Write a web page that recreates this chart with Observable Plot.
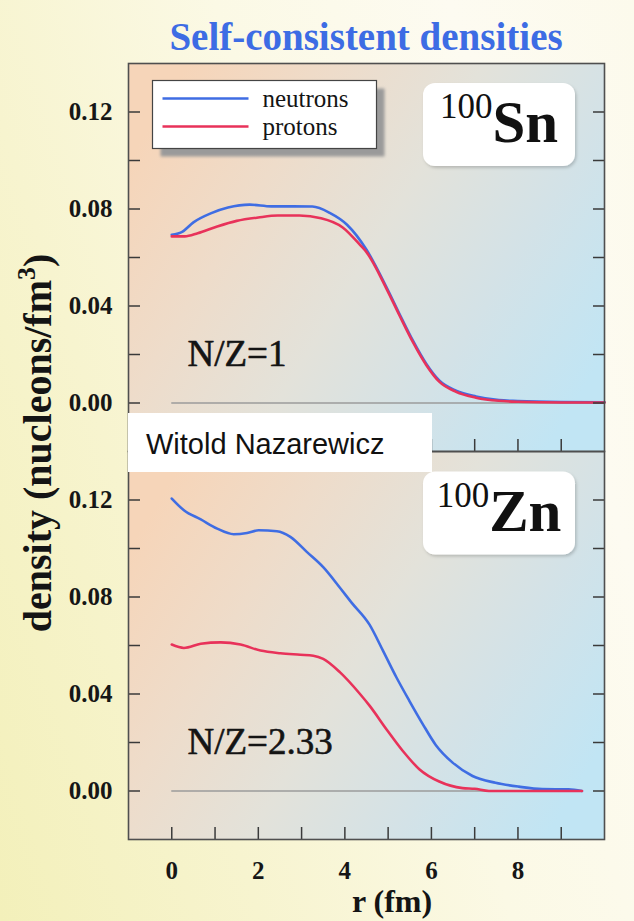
<!DOCTYPE html>
<html>
<head>
<meta charset="utf-8">
<script src="https://cdn.jsdelivr.net/npm/d3@7"></script>
<script src="https://cdn.jsdelivr.net/npm/@observablehq/plot@0.6"></script>
<style>
  html, body { margin: 0; padding: 0; }
  body {
    width: 634px; height: 921px; overflow: hidden;
    background: linear-gradient(72deg, #f3f0ba 0%, #f7f4cf 28%, #fbf9e5 55%, #fdfbf1 80%, #fcfaec 100%);
  }
  #wrap { position: relative; width: 634px; height: 921px; }
  #title {
    position: absolute; left: 128px; top: 14px; width: 476px;
    text-align: center; line-height: 1;
    font: bold 39px "Liberation Serif", "DejaVu Serif", serif;
    color: #3d6ce4;
  }
  #chart { position: absolute; left: 0; top: 0; }
</style>
</head>
<body>
<div id="wrap">
  <div id="chart"></div>
  <div id="title">Self-consistent densities</div>
</div>
<script>
const SERIF = "'Liberation Serif', 'DejaVu Serif', serif";
const SANS = "'Liberation Sans', Arial, sans-serif";

// Nuclei (one panel each) and nucleon species
const nuclei = ["Sn", "Zn"];
const massNumbers = ["100", "100"];
const ratioText = ["N/Z=1", "N/Z=2.33"];
const species = ["neutrons", "protons"];
const speciesColors = ["#3f6de3", "#e8325a"];

// 100Sn density profiles: r (fm) and rho (nucleons/fm^3)
const snNeutronR   = [0, 0.25, 0.5, 0.9, 1.3, 1.8, 2.3, 2.8, 3.25, 3.65, 4.05, 4.5, 4.96, 5.26, 5.57, 5.88, 6.18, 6.57, 7.03, 7.56, 8.0, 9.0, 10.0];
const snNeutronRho = [0.0694, 0.0707, 0.0745, 0.0782, 0.0806, 0.0818, 0.0811, 0.0811, 0.0810, 0.0784, 0.0735, 0.0632, 0.0478, 0.0368, 0.0258, 0.0162, 0.0093, 0.0051, 0.0027, 0.0012, 0.0008, 0.0004, 0.0003];
const snProtonR    = [0, 0.3, 0.6, 1.05, 1.5, 2.0, 2.45, 2.95, 3.45, 3.95, 4.35, 4.5, 4.96, 5.26, 5.57, 5.88, 6.18, 6.57, 7.03, 7.56, 8.0, 9.0, 10.0];
const snProtonRho  = [0.0687, 0.0687, 0.0700, 0.0728, 0.0751, 0.0765, 0.0773, 0.0773, 0.0762, 0.0724, 0.0652, 0.0622, 0.0472, 0.0362, 0.0252, 0.0157, 0.0088, 0.0046, 0.0022, 0.0009, 0.0005, 0.0002, 0.0002];

// 100Zn density profiles
const znNeutronR   = [0, 0.28, 0.67, 1.05, 1.43, 1.74, 2.01, 2.43, 2.74, 3.12, 3.5, 3.9, 4.15, 4.57, 4.88, 5.19, 5.49, 5.8, 6.1, 6.49, 6.95, 7.48, 8.02, 8.56, 9.17, 9.48];
const znNeutronRho = [0.1206, 0.1158, 0.1120, 0.1082, 0.1059, 0.1064, 0.1075, 0.1071, 0.1048, 0.0986, 0.0923, 0.0835, 0.0778, 0.0686, 0.0579, 0.0469, 0.0372, 0.0276, 0.0190, 0.0117, 0.0062, 0.0034, 0.0018, 0.0008, 0.0007, 0.0];
const znProtonR    = [0, 0.28, 0.67, 1.13, 1.59, 2.05, 2.51, 2.97, 3.27, 3.5, 3.89, 4.34, 4.57, 4.96, 5.34, 5.72, 6.18, 6.72, 7.0, 7.33, 8.5, 9.48];
const znProtonRho  = [0.0604, 0.0590, 0.0607, 0.0613, 0.0604, 0.0579, 0.0568, 0.0562, 0.0558, 0.0545, 0.0489, 0.0402, 0.0352, 0.0255, 0.0165, 0.0090, 0.0039, 0.0012, 0.0009, 0.0, 0.0, 0.0];

// Axis ticks
const xTicks = [0, 1, 2, 3, 4, 5, 6, 7, 8, 9];
const xTickLabels = [0, 2, 4, 6, 8];
const yTicks = [0, 0.02, 0.04, 0.06, 0.08, 0.10, 0.12];
const yTickLabels = [0, 0.04, 0.08, 0.12];

const series = [
  {nucleus: "Sn", species: "neutrons", r: snNeutronR, rho: snNeutronRho},
  {nucleus: "Sn", species: "protons",  r: snProtonR,  rho: snProtonRho},
  {nucleus: "Zn", species: "neutrons", r: znNeutronR, rho: znNeutronRho},
  {nucleus: "Zn", species: "protons",  r: znProtonR,  rho: znProtonRho}
];
const rows = series.flatMap(s => s.r.map((r, i) => ({nucleus: s.nucleus, species: s.species, r, rho: s.rho[i]})));
const zeroRules = nuclei.map(n => ({nucleus: n, rMax: d3.max(rows.filter(d => d.nucleus === n), d => d.r)}));
const ratioLabels = nuclei.map((n, i) => ({nucleus: n, label: ratioText[i]}));

const W = 634, H = 921;
const M = {top: 62, right: 30, bottom: 82, left: 128};
const tickStyle = {stroke: "#3a3a3a", strokeWidth: 1.5, label: null, text: null};
const labelStyle = {fontSize: 25, fontWeight: "bold", fontFamily: SERIF, fill: "#161616", label: null, tickSize: 0};

const chart = Plot.plot({
  width: W, height: H,
  marginTop: M.top, marginRight: M.right, marginBottom: M.bottom, marginLeft: M.left,
  style: {background: "none", overflow: "visible"},
  x: {domain: [-1, 10]},
  y: {domain: [-0.02, 0.14]},
  fy: {domain: nuclei, axis: null, padding: 0},
  color: {domain: species, range: speciesColors},
  marks: [
    Plot.frame({fill: "url(#panelFill)"}),
    Plot.ruleY(zeroRules, {fy: "nucleus", y: 0, x1: 0, x2: "rMax", stroke: "#9b9b9b", strokeWidth: 1.5}),
    Plot.line(rows, {fy: "nucleus", x: "r", y: "rho", z: "species", stroke: "species", strokeWidth: 2.6, curve: "monotone-x"}),
    Plot.text(ratioLabels, {fy: "nucleus", text: "label", frameAnchor: "bottom-left", dx: 59, dy: -86,
      textAnchor: "start", lineAnchor: "bottom", fontSize: 37, fontFamily: SERIF, fill: "#141414",
      stroke: "#141414", strokeWidth: 0.6}),
    Plot.axisY(yTicks, {anchor: "left", tickSize: -12, ...tickStyle}),
    Plot.axisY(yTicks, {anchor: "right", tickSize: -12, ...tickStyle}),
    Plot.axisX(xTicks, {anchor: "bottom", tickSize: -12, facetAnchor: null, ...tickStyle}),
    Plot.axisY(yTickLabels, {anchor: "left", tickPadding: 16, tickFormat: d3.format(".2f"), ...labelStyle}),
    Plot.axisX(xTickLabels, {anchor: "bottom", tickPadding: 22, ...labelStyle}),
    Plot.frame({stroke: "#4f4f4f", strokeWidth: 1.6})
  ]
});
document.getElementById("chart").appendChild(chart);

// Panel fill, soft shadows and the annotations layered over the plot
const svg = d3.select(chart);
const defs = svg.insert("defs", ":first-child");
const grad = defs.append("linearGradient").attr("id", "panelFill")
  .attr("x1", 0).attr("y1", 0.25).attr("x2", 1).attr("y2", 0.75);
[[0, "#f6d5b9"], [0.25, "#eedcca"], [0.5, "#e3e2da"], [0.75, "#d3e2e7"], [1, "#c1e5f4"]]
  .forEach(([o, c]) => grad.append("stop").attr("offset", o).attr("stop-color", c));
defs.append("filter").attr("id", "blurShadow").attr("x", -0.1).attr("y", -0.1).attr("width", 1.3).attr("height", 1.4)
  .append("feGaussianBlur").attr("stdDeviation", 1.8);
defs.append("filter").attr("id", "boxShadow").attr("x", -0.1).attr("y", -0.1).attr("width", 1.3).attr("height", 1.3)
  .append("feDropShadow").attr("dx", 1.5).attr("dy", 2).attr("stdDeviation", 1.5).attr("flood-color", "#000").attr("flood-opacity", 0.18);

const panelH = (H - M.top - M.bottom) / nuclei.length;
const ann = svg.append("g");

// Legend
const leg = ann.append("g").attr("transform", "translate(152.5,80.5)");
leg.append("rect").attr("x", 8).attr("y", 8).attr("width", 224).attr("height", 68).attr("fill", "#9a9a9a").attr("filter", "url(#blurShadow)");
leg.append("rect").attr("width", 224).attr("height", 68).attr("fill", "#fff").attr("stroke", "#444").attr("stroke-width", 1.2);
const legRow = 28;
species.forEach((s, i) => {
  const y = 18 + i * legRow;
  leg.append("line").attr("x1", 10).attr("x2", 96).attr("y1", y).attr("y2", y)
    .attr("stroke", speciesColors[i]).attr("stroke-width", 2.6);
  leg.append("text").attr("x", 110).attr("y", y + 8.5).attr("font-family", SERIF).attr("font-size", 25)
    .attr("fill", "#141414").attr("text-anchor", "start").text(s);
});

// Nucleus name boxes
nuclei.forEach((n, i) => {
  const top = M.top + i * panelH;
  const g = ann.append("g").attr("transform", `translate(423,${top + 21})`);
  g.append("rect").attr("width", 152).attr("height", 83).attr("rx", 12).attr("fill", "#fff").attr("filter", "url(#boxShadow)");
  const t = g.append("text").attr("x", 76).attr("y", 59).attr("text-anchor", "middle").attr("fill", "#111").attr("font-family", SERIF);
  t.append("tspan").attr("font-size", 35).attr("dy", -24).text(massNumbers[i]);
  t.append("tspan").attr("font-size", 59).attr("font-weight", "bold").attr("dy", 24).text(n);
});

// Axis titles
const yl = ann.append("text").attr("transform", "translate(51,443) rotate(-90)").attr("text-anchor", "middle")
  .attr("font-family", SERIF).attr("font-weight", "bold").attr("font-size", 40).attr("fill", "#141414");
yl.append("tspan").text("density (nucleons/fm");
yl.append("tspan").attr("font-size", 26).attr("dy", -16).text("3");
yl.append("tspan").attr("dy", 16).text(")");
ann.append("text").attr("x", 392).attr("y", 912).attr("text-anchor", "middle")
  .attr("font-family", SERIF).attr("font-weight", "bold").attr("font-size", 32).attr("fill", "#141414").text("r (fm)");

// Credit box
const credit = ann.append("g").attr("transform", "translate(128,413)");
credit.append("rect").attr("width", 304).attr("height", 59).attr("fill", "#fff");
credit.append("text").attr("x", 18).attr("y", 41).attr("font-family", SANS).attr("font-size", 29)
  .attr("fill", "#111").attr("text-anchor", "start").text("Witold Nazarewicz");
</script>
</body>
</html>
